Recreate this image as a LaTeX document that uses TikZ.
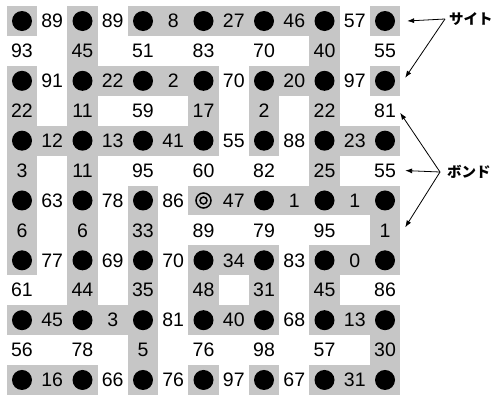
\documentclass[tikz,border=0pt]{standalone}
\usepackage{fontspec}
\setmainfont{Liberation Sans}
\newfontfamily\jpfont{Noto Sans CJK JP}
\usepackage{tikz}
\usetikzlibrary{arrows.meta, positioning}
\definecolor{halftone}{HTML}{C6C6C6}
\tikzset{
  cell/.style={
    rectangle, inner sep=0pt, outer sep=0pt,
    minimum width=30.25pt, minimum height=29.9pt,
  },
  site/.style={cell, fill=halftone},
  bond/.style={cell, fill=halftone!#1, font=\fontsize{19.5}{19.5}\selectfont},
  pointer/.style={-{Latex[length=7pt, width=5pt]}, line width=0.8pt, color=black},
  tag/.style={inner sep=0pt, anchor=west, font=\jpfont\bfseries\fontsize{14.5}{14.5}\selectfont},
}

\begin{document}
\begin{tikzpicture}[x=1pt, y=-1pt]
  \useasboundingbox (0,0) rectangle (495,394);

  % Sites
  \foreach \rw in {1,...,7}
    \foreach \cl in {1,...,7} {
      \node[site] (s-\rw-\cl) at ({22+60.5*(\cl-1)}, {21+59.83*(\rw-1)}) {};
      \ifnum\rw\cl=44 \else \fill (s-\rw-\cl) circle (10pt); \fi
    }
  % seed site
  \draw[line width=1.5pt] (s-4-4) circle (7.5pt) (s-4-4) circle (3.5pt);

  % Horizontal bonds
  \foreach \vals [count=\rw] in {
      {89,89,8,27,46,57}, {91,22,2,70,20,97}, {12,13,41,55,88,23},
      {63,78,86,47,1,1}, {77,69,70,34,83,0}, {45,3,81,40,68,13},
      {16,66,76,97,67,31}}
    \foreach \v [count=\cl] in \vals {
      \pgfmathtruncatemacro\tone{(\v<50)*100}
      \node[bond=\tone] (h-\rw-\cl) at ({52.25+60.5*(\cl-1)}, {21+59.83*(\rw-1)}) {\v};
    }

  % Vertical bonds
  \foreach \vals [count=\rw] in {
      {93,45,51,83,70,40,55}, {22,11,59,17,2,22,81}, {3,11,95,60,82,25,55},
      {6,6,33,89,79,95,1}, {61,44,35,48,31,45,86}, {56,78,5,76,98,57,30}}
    \foreach \v [count=\cl] in \vals {
      \pgfmathtruncatemacro\tone{(\v<50)*100}
      \node[bond=\tone] (v-\rw-\cl) at ({22+60.5*(\cl-1)}, {50.9+59.83*(\rw-1)}) {\v};
    }

  % Labels
  \node[tag] (site) at (449,19) {サイト};
  \node[tag] (bondtag) at (447,172) {ボンド};
  \coordinate[left=4pt of site] (fork1);
  \coordinate[left=7pt of bondtag] (fork2);

  % Arrows
  \draw[pointer] (fork1) -- ([xshift=7pt]s-1-7.east);
  \draw[pointer] (fork1) -- ([shift={(5pt,3pt)}]s-2-7.east);
  \draw[pointer] (fork2) -- ([yshift=-2pt]v-2-7.east);
  \draw[pointer] (fork2) -- ([xshift=5pt]v-3-7.east);
  \draw[pointer] (fork2) -- ([shift={(5pt,3pt)}]v-4-7.east);

\end{tikzpicture}
\end{document}
